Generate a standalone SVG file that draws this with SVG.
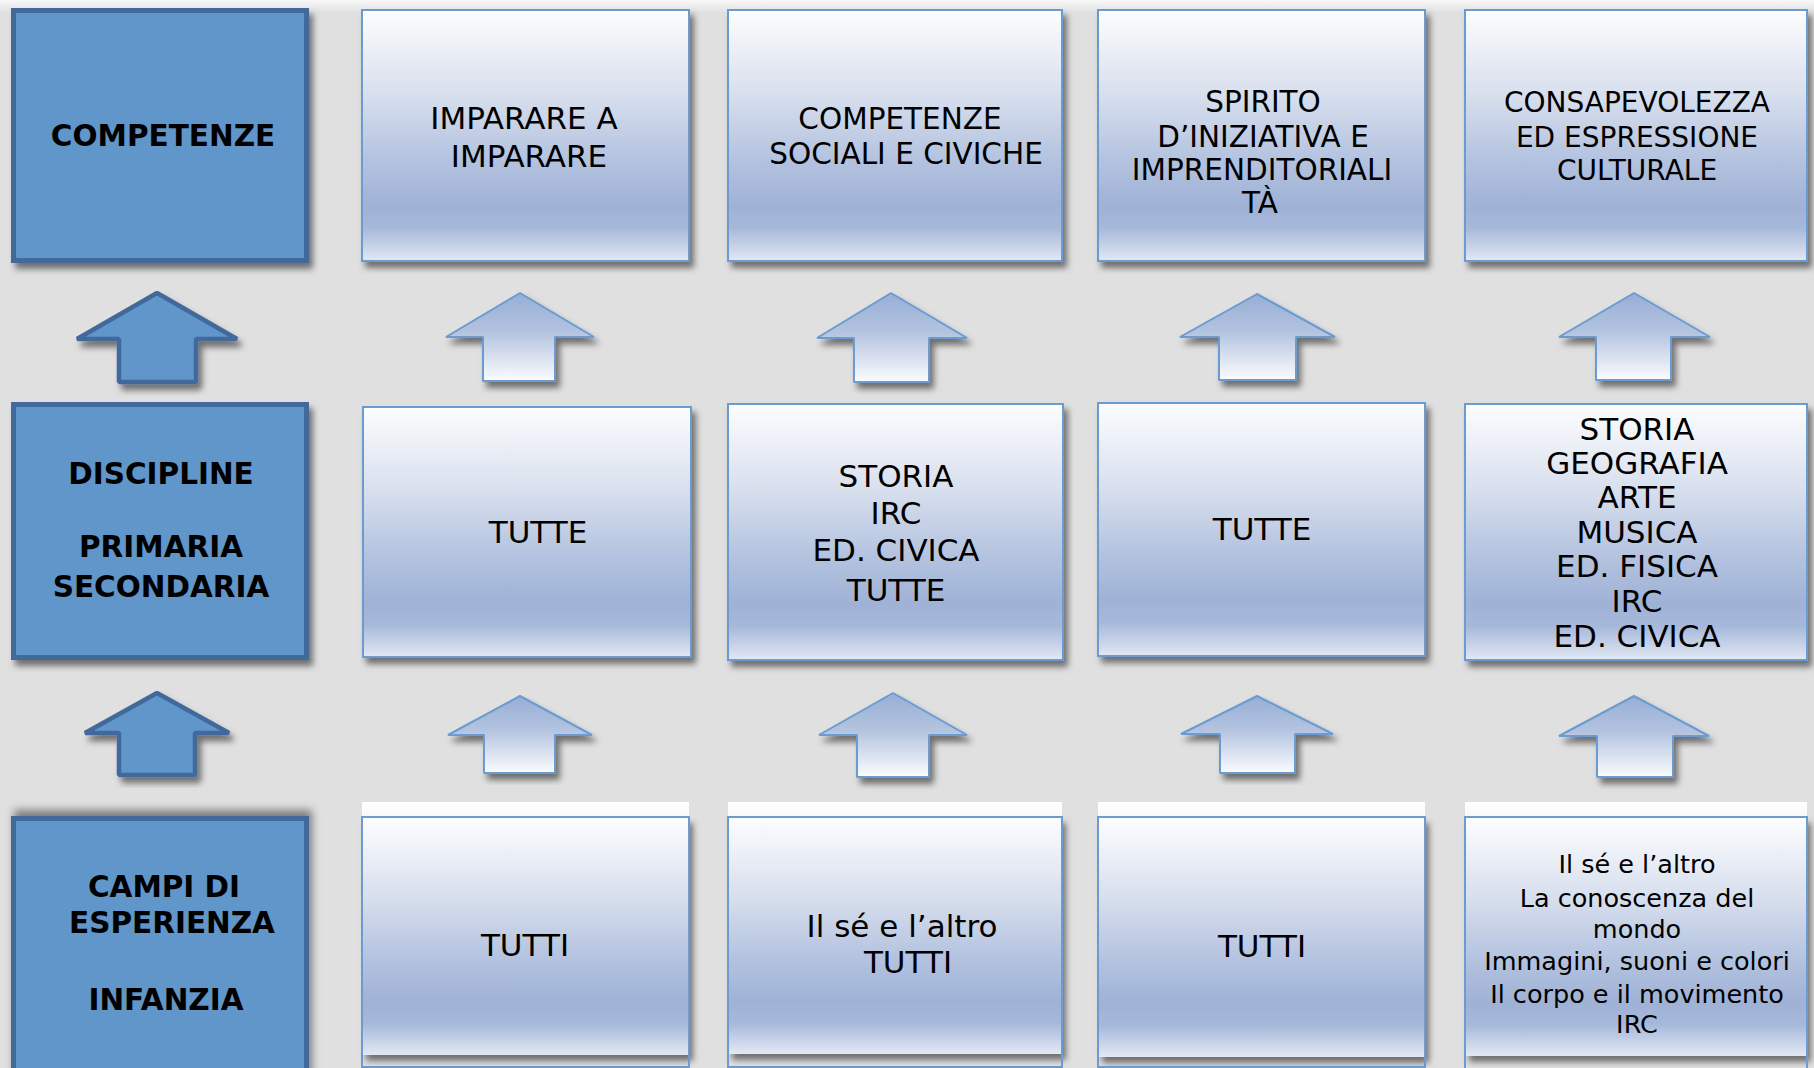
<svg xmlns="http://www.w3.org/2000/svg" width="1814" height="1068" viewBox="0 0 1814 1068">
<defs>
  <linearGradient id="boxGrad" x1="0" y1="0" x2="0" y2="1">
    <stop offset="0" stop-color="#fdfdfe"/>
    <stop offset="0.35" stop-color="#d6deed"/>
    <stop offset="0.6" stop-color="#b3c2df"/>
    <stop offset="0.78" stop-color="#9fb2d6"/>
    <stop offset="0.87" stop-color="#a7b9da"/>
    <stop offset="0.95" stop-color="#ccd6ea"/>
    <stop offset="1" stop-color="#e3e9f3"/>
  </linearGradient>
  <linearGradient id="arrowGrad" x1="0" y1="0" x2="0" y2="1">
    <stop offset="0" stop-color="#97aed5"/>
    <stop offset="0.45" stop-color="#b4c4e0"/>
    <stop offset="1" stop-color="#fbfcfe"/>
  </linearGradient>
  <linearGradient id="bandGrad" x1="0" y1="0" x2="0" y2="1">
    <stop offset="0" stop-color="#ffffff"/>
    <stop offset="1" stop-color="#f4f6fa"/>
  </linearGradient>
  <linearGradient id="topGrad" x1="0" y1="0" x2="0" y2="1">
    <stop offset="0" stop-color="#f8f8f8"/>
    <stop offset="1" stop-color="#e2e2e2"/>
  </linearGradient>
  <filter id="shadow" x="-10%" y="-10%" width="125%" height="125%">
    <feDropShadow dx="4" dy="6" stdDeviation="3" flood-color="#000" flood-opacity="0.5"/>
  </filter>
  <filter id="shadowUp" x="-10%" y="-20%" width="125%" height="140%">
    <feDropShadow dx="3" dy="-6" stdDeviation="4" flood-color="#000" flood-opacity="0.45"/>
  </filter>
</defs>
<style>
  .dark { fill: #6196c9; stroke: #43699b; stroke-width: 5; }
  .light { fill: url(#boxGrad); stroke: #6b9bd1; stroke-width: 2; }
  .darrow { fill: #6196c9; stroke: #43699b; stroke-width: 4.5; stroke-linejoin: bevel; }
  .larrow { fill: url(#arrowGrad); stroke: #6b9bd1; stroke-width: 2; stroke-linejoin: bevel; }
  .band { fill: url(#bandGrad); }
  .outline { fill: none; stroke: #6b9bd1; stroke-width: 2; }
  text { font-family: "DejaVu Sans", Verdana, "Liberation Sans", sans-serif; fill: #000; text-anchor: middle; }
  .hd { font-weight: bold; font-size: 29.5px; }
  .t31 { font-size: 31px; }
  .t29 { font-size: 29.5px; }
  .t28 { font-size: 28px; }
  .t25 { font-size: 25.5px; }
</style>

<rect x="0" y="0" width="1814" height="1068" fill="#e0e0e0"/>
<rect x="0" y="0" width="1814" height="12" fill="url(#topGrad)"/>

<!-- Row 1 -->
<g id="competenze">
  <rect class="dark" x="13.5" y="10.5" width="293" height="250" filter="url(#shadow)"/>
  <text class="hd" x="163" y="146">COMPETENZE</text>
</g>
<g id="imparare">
  <rect class="light" x="362" y="10" width="327" height="251" filter="url(#shadow)"/>
  <text class="t31" x="524" y="129">IMPARARE A</text>
  <text class="t31" x="529" y="167">IMPARARE</text>
</g>
<g id="competenze-sociali">
  <rect class="light" x="728" y="10" width="334" height="251" filter="url(#shadow)"/>
  <text class="t29" x="900" y="129">COMPETENZE</text>
  <text class="t29" x="906" y="164">SOCIALI E CIVICHE</text>
</g>
<g id="spirito">
  <rect class="light" x="1098" y="10" width="327" height="251" filter="url(#shadow)"/>
  <text class="t29" x="1263" y="112">SPIRITO</text>
  <text class="t29" x="1263" y="147">D’INIZIATIVA E</text>
  <text class="t29" x="1262" y="180">IMPRENDITORIALI</text>
  <text class="t29" x="1260" y="213">TÀ</text>
</g>
<g id="consapevolezza">
  <rect class="light" x="1465" y="10" width="342" height="251" filter="url(#shadow)"/>
  <text class="t28" x="1637" y="112">CONSAPEVOLEZZA</text>
  <text class="t28" x="1637" y="147">ED ESPRESSIONE</text>
  <text class="t28" x="1637" y="180">CULTURALE</text>
</g>

<!-- Row 2 -->
<g id="discipline">
  <rect class="dark" x="13.5" y="404.5" width="293" height="253" filter="url(#shadow)"/>
  <text class="hd" x="161" y="484">DISCIPLINE</text>
  <text class="hd" x="161" y="557">PRIMARIA</text>
  <text class="hd" x="161" y="597">SECONDARIA</text>
</g>
<g id="disc-tutte-1">
  <rect class="light" x="363" y="407" width="328" height="250" filter="url(#shadow)"/>
  <text class="t31" x="538" y="543">TUTTE</text>
</g>
<g id="disc-storia">
  <rect class="light" x="728" y="404" width="335" height="256" filter="url(#shadow)"/>
  <text class="t31" x="896" y="487">STORIA</text>
  <text class="t31" x="896" y="524">IRC</text>
  <text class="t31" x="896" y="561">ED. CIVICA</text>
  <text class="t31" x="896" y="601">TUTTE</text>
</g>
<g id="disc-tutte-2">
  <rect class="light" x="1098" y="403" width="327" height="253" filter="url(#shadow)"/>
  <text class="t31" x="1262" y="540">TUTTE</text>
</g>
<g id="disc-elenco">
  <rect class="light" x="1465" y="404" width="342" height="256" filter="url(#shadow)"/>
  <text class="t31" x="1637" y="440">STORIA</text>
  <text class="t31" x="1637" y="474">GEOGRAFIA</text>
  <text class="t31" x="1637" y="508">ARTE</text>
  <text class="t31" x="1637" y="543">MUSICA</text>
  <text class="t31" x="1637" y="577">ED. FISICA</text>
  <text class="t31" x="1637" y="612">IRC</text>
  <text class="t31" x="1637" y="647">ED. CIVICA</text>
</g>

<!-- Row 3 -->
<g id="campi">
  <rect class="dark" x="13.5" y="818.5" width="293" height="270" filter="url(#shadowUp)"/>
  <text class="hd" x="164" y="897">CAMPI DI</text>
  <text class="hd" x="172" y="933">ESPERIENZA</text>
  <text class="hd" x="166" y="1010">INFANZIA</text>
</g>
<g id="campi-tutti-1">
  <rect class="band" x="362" y="802" width="327" height="20"/>
  <rect x="362" y="817" width="327" height="238" fill="url(#boxGrad)" filter="url(#shadow)"/>
  <rect class="outline" x="362" y="817" width="327" height="250"/>
  <text class="t31" x="525" y="956">TUTTI</text>
</g>
<g id="campi-altro">
  <rect class="band" x="728" y="802" width="334" height="20"/>
  <rect x="728" y="817" width="334" height="237" fill="url(#boxGrad)" filter="url(#shadow)"/>
  <rect class="outline" x="728" y="817" width="334" height="250"/>
  <text class="t31" x="902" y="937">Il sé e l’altro</text>
  <text class="t31" x="908" y="973">TUTTI</text>
</g>
<g id="campi-tutti-2">
  <rect class="band" x="1098" y="802" width="327" height="20"/>
  <rect x="1098" y="817" width="327" height="240" fill="url(#boxGrad)" filter="url(#shadow)"/>
  <rect class="outline" x="1098" y="817" width="327" height="250"/>
  <text class="t31" x="1262" y="957">TUTTI</text>
</g>
<g id="campi-elenco">
  <rect class="band" x="1465" y="802" width="342" height="20"/>
  <rect x="1465" y="817" width="342" height="239" fill="url(#boxGrad)" filter="url(#shadow)"/>
  <rect class="outline" x="1465" y="817" width="342" height="260"/>
  <text class="t25" x="1637" y="873">Il sé e l’altro</text>
  <text class="t25" x="1637" y="907">La conoscenza del</text>
  <text class="t25" x="1637" y="938">mondo</text>
  <text class="t25" x="1637" y="970">Immagini, suoni e colori</text>
  <text class="t25" x="1637" y="1003">Il corpo e il movimento</text>
  <text class="t25" x="1637" y="1033">IRC</text>
</g>

<!-- Connectors (block arrows) -->
<g id="connectors">
  <path class="darrow" filter="url(#shadow)" d="M157,293 L237,339 L196,339 L196,382 L119,382 L119,339 L77,339 Z"/>
  <path class="larrow" filter="url(#shadow)" d="M520,293 L594,337 L555,337 L555,381 L483,381 L483,337 L446,337 Z"/>
  <path class="larrow" filter="url(#shadow)" d="M891,293 L967,338 L929,338 L929,382 L854,382 L854,338 L817,338 Z"/>
  <path class="larrow" filter="url(#shadow)" d="M1257,294 L1335,337 L1296,337 L1296,380 L1219,380 L1219,337 L1180,337 Z"/>
  <path class="larrow" filter="url(#shadow)" d="M1634,293 L1710,337 L1671,337 L1671,380 L1596,380 L1596,337 L1559,337 Z"/>

  <path class="darrow" filter="url(#shadow)" d="M157,693 L229,733 L195,733 L195,775 L119,775 L119,733 L85,733 Z"/>
  <path class="larrow" filter="url(#shadow)" d="M520,696 L592,735 L555,735 L555,773 L484,773 L484,735 L448,735 Z"/>
  <path class="larrow" filter="url(#shadow)" d="M893,693 L967,735 L929,735 L929,777 L857,777 L857,735 L819,735 Z"/>
  <path class="larrow" filter="url(#shadow)" d="M1257,696 L1333,734 L1295,734 L1295,773 L1220,773 L1220,734 L1181,734 Z"/>
  <path class="larrow" filter="url(#shadow)" d="M1634,696 L1709,736 L1673,736 L1673,777 L1597,777 L1597,736 L1559,736 Z"/>
</g>
</svg>
